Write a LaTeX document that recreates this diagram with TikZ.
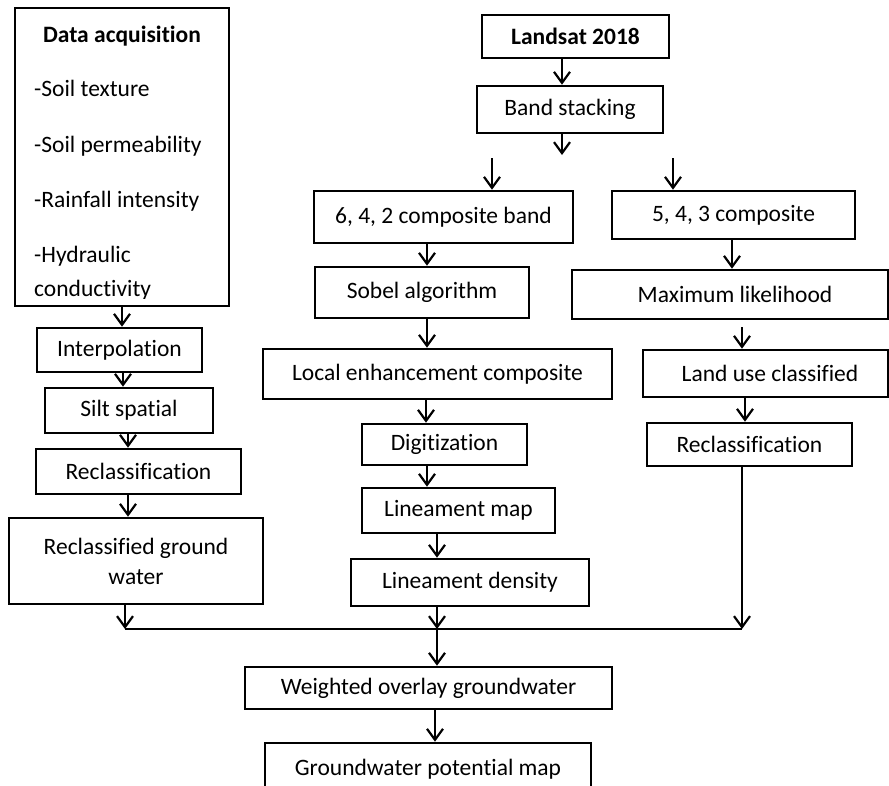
\documentclass[tikz,border=0pt]{standalone}
\usepackage{fontspec}
\setmainfont{Carlito}[Ligatures={NoCommon}]
\usetikzlibrary{arrows.meta}
\tikzset{
  box/.style={draw, line width=2.6pt, inner sep=0pt, align=center, font=\fontsize{23.5}{31}\selectfont},
  itm/.style={anchor=base west, inner sep=0pt, font=\fontsize{23.5}{31}\selectfont},
  arr/.style={line width=2.2pt, -{Straight Barb[length=11pt,width=16pt,line width=2.2pt]}},
  ln/.style={line width=2.4pt}
}
\newcommand\bx[6]{\node[box, minimum width={#4-#2}, minimum height={#5-#3}] (#1) at ({(#2+#4)/2},{(#3+#5)/2}) {#6};}
\begin{document}
\begin{tikzpicture}[x=1pt,y=-1pt]
\clip (0,0) rectangle (889,785);
\fill[white] (0,0) rectangle (889,785);
% left column
\bx{data}{15}{8}{229}{306}{}
\node[itm, anchor=base, font=\fontsize{23.5}{31}\selectfont\bfseries] (t0) at (122,42) {Data acquisition};
\node[itm] (t1) at (34,96) {-Soil texture};
\node[itm] (t2) at (34,152) {-Soil permeability};
\node[itm] (t3) at (34,207) {-Rainfall intensity};
\node[itm] (t4) at (34,262) {-Hydraulic};
\begin{scope}
\clip (16,270) rectangle (228,298);
\node[itm] (t5) at (34,296) {conductivity};
\end{scope}
\bx{interp}{37}{328}{202}{372}{\raisebox{-2pt}{Interpolation}}
\bx{silt}{45}{388}{213}{433}{\raisebox{-2pt}{Silt spatial}}
\bx{rcl}{36}{449}{241}{494}{\raisebox{-2pt}{Reclassification}}
\bx{rgw}{9}{518}{263}{604}{Reclassified ground\\[-1pt]water}
% middle/right
\bx{landsat}{482}{15}{669}{58}{\raisebox{-5pt}{\bfseries Landsat 2018}}
\bx{band}{477}{86}{663}{133}{Band stacking}
\bx{c642}{314}{191}{573}{243}{6, 4, 2 composite band}
\bx{c543}{612}{191}{855}{239}{5, 4, 3 composite}
\bx{sobel}{315}{267}{529}{318}{Sobel algorithm}
\bx{maxl}{572}{270}{888}{319}{\hspace*{10pt}Maximum likelihood}
\bx{local}{263}{349}{612}{399}{Local enhancement composite}
\bx{landuse}{643}{350}{888}{397}{\hspace*{9pt}Land use classified}
\bx{digit}{362}{424}{527}{465}{Digitization}
\bx{rcr}{647}{423}{852}{466}{Reclassification}
\bx{linmap}{362}{488}{555}{533}{Lineament map}
\bx{lind}{351}{559}{589}{606}{Lineament density}
\bx{wo}{245}{667}{612}{709}{Weighted overlay groundwater}
\bx{gpm}{265}{743}{591}{795}{\raisebox{2pt}{Groundwater potential map}}
% free coordinates
\coordinate (f1) at (562,155);
\coordinate (f2) at (492,158);
\coordinate (f3) at (673,158);
\coordinate (f4) at (742,327);
\coordinate (busL) at (125,629);
\coordinate (busM) at (437,629);
\coordinate (busR) at (742,629);
% connectors
\draw[arr] (landsat.south -| 562,0) -- (band.north -| 562,0);
\draw[arr] (band.south -| f1) -- (f1);
\draw[arr] (f2) -- (c642.north -| f2);
\draw[arr] (f3) -- (c543.north -| f3);
\draw[arr] (c642.south -| 427,0) -- (sobel.north -| 427,0);
\draw[arr] (sobel.south -| 427,0) -- (local.north -| 427,0);
\draw[arr] (local.south -| 426,0) -- (digit.north -| 426,0);
\draw[arr] (digit.south -| 427,0) -- (linmap.north -| 427,0);
\draw[arr] (linmap.south -| 437,0) -- (lind.north -| 437,0);
\draw[arr] (lind.south -| busM) -- (busM);
\draw[arr] (c543.south -| 732,0) -- (maxl.north -| 732,0);
\draw[arr] (f4) -- (landuse.north -| f4);
\draw[arr] (landuse.south -| 745,0) -- (rcr.north -| 745,0);
\draw[arr] (rcr.south -| busR) -- (busR);
\draw[arr] (data.south -| 122,0) -- (interp.north -| 122,0);
\draw[arr] (interp.south -| 123,0) -- (silt.north -| 123,0);
\draw[arr] (silt.south -| 128,0) -- (rcl.north -| 128,0);
\draw[arr] (rcl.south -| 128,0) -- (rgw.north -| 128,0);
\draw[arr] (rgw.south -| busL) -- (busL);
\draw[ln] (busL) -- (busR);
\draw[arr] (busM) -- (wo.north -| busM);
\draw[arr] (wo.south -| 435,0) -- (gpm.north -| 435,0);
\end{tikzpicture}
\end{document}
